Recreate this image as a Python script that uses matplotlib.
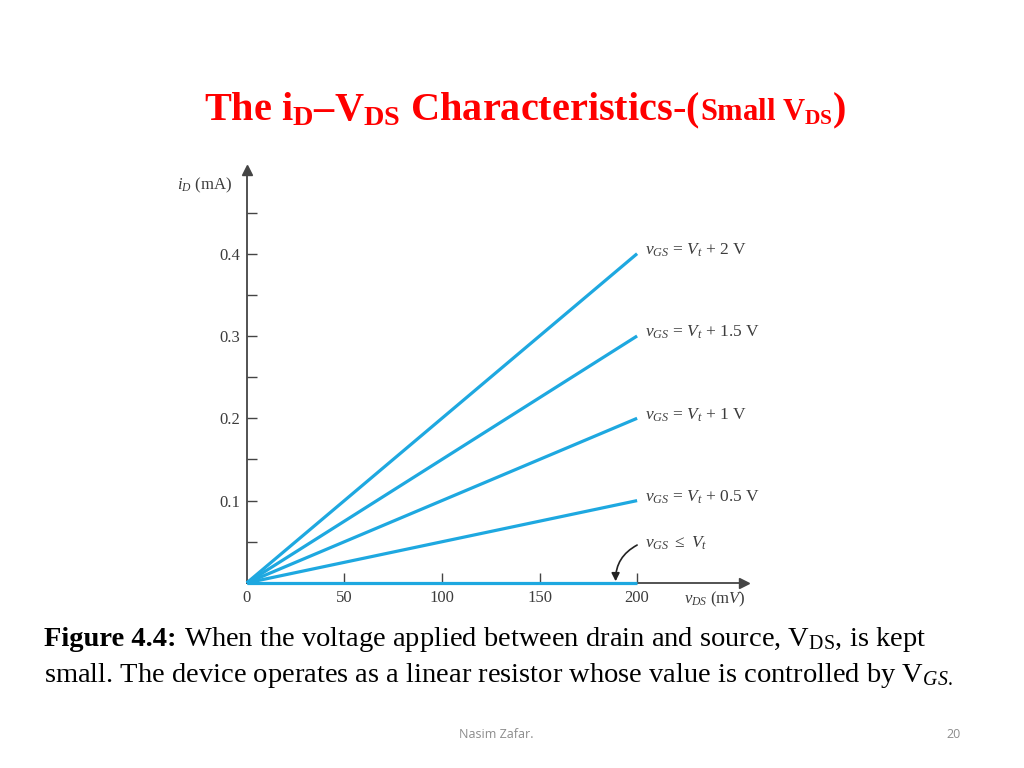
import numpy as np
import matplotlib
matplotlib.use("Agg")
import matplotlib.pyplot as plt
from matplotlib.offsetbox import TextArea, HPacker, VPacker, AnchoredOffsetbox

plt.rcParams["font.family"] = ["Liberation Serif", "DejaVu Serif"]
plt.rcParams["mathtext.fontset"] = "custom"
plt.rcParams["mathtext.rm"] = "Liberation Serif"
plt.rcParams["mathtext.it"] = "Liberation Serif:italic"
plt.rcParams["mathtext.bf"] = "Liberation Serif:bold"

# data
vds_mv = [0, 200]
id_end_ma = [0.4, 0.3, 0.2, 0.1, 0.0]
curve_labels = [r"$v_{GS}$ = $V_t$ + 2 V", r"$v_{GS}$ = $V_t$ + 1.5 V",
                r"$v_{GS}$ = $V_t$ + 1 V", r"$v_{GS}$ = $V_t$ + 0.5 V"]
cutoff_label = r"$v_{GS}$ $\leq$ $V_t$"
x_ticks = [0, 50, 100, 150, 200]
y_major = [0.1, 0.2, 0.3, 0.4]
y_minor = [0.05, 0.15, 0.25, 0.35, 0.45]

line_color = "#1ea8e0"
ink = "#3c3c3c"

fig = plt.figure(figsize=(10.24, 7.68), dpi=100)
ax = fig.add_axes([0.241, 0.241, 0.486, 0.538])
ax.set_xlim(0, 255)
ax.set_ylim(0, 0.502)

for iend in id_end_ma:
    ax.plot(vds_mv, [0, iend], color=line_color, lw=2.3, solid_capstyle="butt",
            clip_on=False, zorder=3)

for lab, iend in zip(curve_labels, id_end_ma[:4]):
    ax.text(204, iend + 0.004, lab, color=ink, fontsize=12.5, va="center", ha="left")

ax.text(204, 0.048, cutoff_label, color=ink, fontsize=12.5, va="center", ha="left")
ax.annotate("", xy=(189, 0.002), xytext=(200, 0.046),
            arrowprops=dict(arrowstyle="-|>", color="#222222", lw=1.2,
                            shrinkA=0, shrinkB=0, mutation_scale=12,
                            connectionstyle="arc3,rad=0.3"))

# axes styling
for s in ["top", "right"]:
    ax.spines[s].set_visible(False)
for s in ["left", "bottom"]:
    ax.spines[s].set_color("#444444")
    ax.spines[s].set_linewidth(1.3)
ax.plot(1, 0, ">", color="#444444", ms=7, transform=ax.transAxes, clip_on=False)
ax.plot(0, 1, "^", color="#444444", ms=7, transform=ax.transAxes, clip_on=False)

ax.set_xticks(x_ticks)
ax.set_xticklabels([str(t) for t in x_ticks])
ax.set_yticks(y_major)
ax.set_yticklabels([f"{t:.1f}" for t in y_major])
ax.set_yticks(y_minor, minor=True)
ax.tick_params(axis="both", which="both", direction="in", length=7.5, width=1,
               color="#444444", labelcolor=ink, labelsize=12)
ax.tick_params(axis="x", pad=5)
ax.tick_params(axis="y", pad=5)
ax.xaxis.get_major_ticks()[0].tick1line.set_visible(False)

fig.text(0.173, 0.759, r"$i_D$ (mA)", color=ink, fontsize=12, va="center", ha="left")
fig.text(0.668, 0.220, r"$v_{DS}$ (m$V$)", color=ink, fontsize=12, va="center", ha="left")

# slide title
red = "#ff0000"
big = dict(color=red, fontsize=29, fontweight="bold")
small = dict(color=red, fontsize=22, fontweight="bold")
title_box = HPacker(children=[
    TextArea(r"The i$_\mathbf{D}$–V$_\mathbf{DS}$ Characteristics-(", textprops=big),
    TextArea(r"Small V$_\mathbf{DS}$", textprops=small),
    TextArea(")", textprops=big),
], align="baseline", pad=0, sep=0)
fig.add_artist(AnchoredOffsetbox(loc="center", child=title_box, frameon=False,
                                 bbox_to_anchor=(0.513, 0.856),
                                 bbox_transform=fig.transFigure, pad=0, borderpad=0))

# caption
cap = dict(color="black", fontsize=20.5)
capb = dict(color="black", fontsize=20.5, fontweight="bold")
line1 = HPacker(children=[
    TextArea("Figure 4.4:", textprops=capb),
    TextArea(r" When the voltage applied between drain and source, V$_\mathrm{DS}$, is kept",
             textprops=cap),
], align="baseline", pad=0, sep=0)
line2 = TextArea(r"small. The device operates as a linear resistor whose value is controlled by V$_{GS.}$",
                 textprops=cap)
caption = VPacker(children=[line1, line2], align="left", pad=0, sep=5)
fig.add_artist(AnchoredOffsetbox(loc="upper left", child=caption, frameon=False,
                                 bbox_to_anchor=(0.043, 0.186),
                                 bbox_transform=fig.transFigure, pad=0, borderpad=0))

# footer
fig.text(0.485, 0.044, "Nasim Zafar.", color="#8c8c8c", fontsize=9,
         family=["Open Sans", "DejaVu Sans"], ha="center", va="center")
fig.text(0.931, 0.044, "20", color="#8c8c8c", fontsize=9,
         family=["Open Sans", "DejaVu Sans"], ha="center", va="center")

fig.savefig("out.png", dpi=100)
plt.close(fig)
